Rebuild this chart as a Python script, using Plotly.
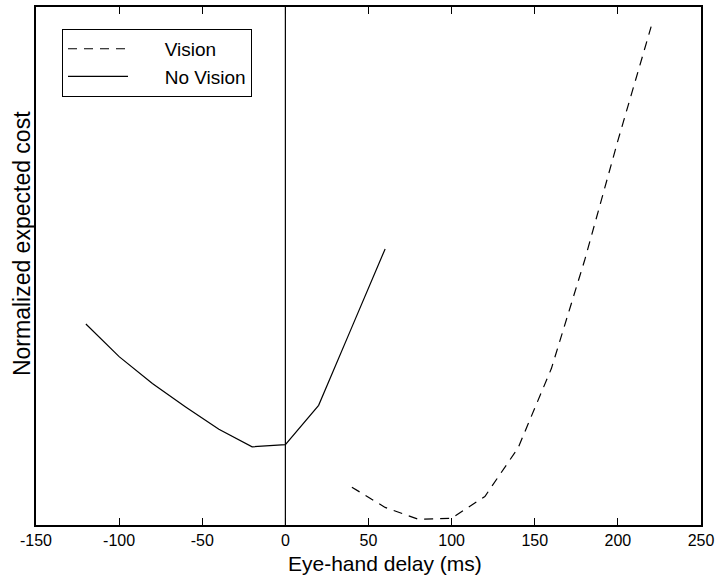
import plotly.graph_objects as go

# Data
vision_x = [40, 60, 80, 100, 120, 140, 160, 180, 200, 220]
vision_y = [0.073, 0.034, 0.011, 0.013, 0.055, 0.149, 0.302, 0.511, 0.742, 0.962]

novision_x = [-120, -100, -80, -60, -40, -20, 0, 20, 40, 60]
novision_y = [0.388, 0.325, 0.273, 0.228, 0.185, 0.151, 0.155, 0.231, 0.382, 0.533]

x_ticks = [-150, -100, -50, 0, 50, 100, 150, 200, 250]

FONT = "Liberation Sans, Arial, sans-serif"
PAD = "\u00a0" * 6

TOP, BOTTOM = 5, 525          # plot area in pixels
PH = BOTTOM - TOP

fig = go.Figure()
fig.add_trace(go.Scatter(
    x=vision_x, y=vision_y, mode="lines", name=PAD + "Vision",
    line=dict(color="black", width=1.2, dash="9px,7px"),
))
fig.add_trace(go.Scatter(
    x=novision_x, y=novision_y, mode="lines", name=PAD + "No Vision",
    line=dict(color="black", width=1.2),
))

# vertical reference line at zero delay
fig.add_shape(type="line", xref="x", yref="paper", x0=0, x1=0, y0=0, y1=1,
              line=dict(color="black", width=1.2))

fig.update_xaxes(
    range=[-150, 250], tickvals=x_ticks, ticktext=[str(v) for v in x_ticks],
    showline=True, linecolor="black", linewidth=1.5, mirror="ticks",
    ticks="inside", ticklen=7, tickcolor="black", tickwidth=1,
    showgrid=False, zeroline=False,
    tickfont=dict(family=FONT, size=16, color="black"),
)
fig.update_yaxes(
    range=[0, 1], showticklabels=False, ticks="",
    showline=True, linecolor="black", linewidth=1.5, mirror=True,
    showgrid=False, zeroline=False,
)

fig.add_annotation(text="Eye-hand delay (ms)", xref="paper", yref="paper",
                   x=(385 - 36) / 665, y=0, xanchor="center", yanchor="middle",
                   yshift=-(563 - BOTTOM), showarrow=False,
                   font=dict(family=FONT, size=21, color="black"))
fig.add_annotation(text="Normalized expected cost", xref="paper", yref="paper",
                   x=0, y=(BOTTOM - 243) / PH, xanchor="center", yanchor="middle",
                   xshift=-14, textangle=-90, showarrow=False,
                   font=dict(family=FONT, size=23, color="black"))

fig.update_layout(
    width=720, height=576,
    margin=dict(l=36, r=19, t=TOP, b=576 - BOTTOM),
    paper_bgcolor="white", plot_bgcolor="white",
    showlegend=True,
    legend=dict(x=(62 - 36) / 665, y=(BOTTOM - 27) / PH, xanchor="left", yanchor="top",
                bordercolor="black", borderwidth=1, bgcolor="white",
                font=dict(family=FONT, size=19, color="black"),
                itemwidth=60, tracegroupgap=0),
    font=dict(family=FONT, color="black"),
)

fig.write_html("out.html")
